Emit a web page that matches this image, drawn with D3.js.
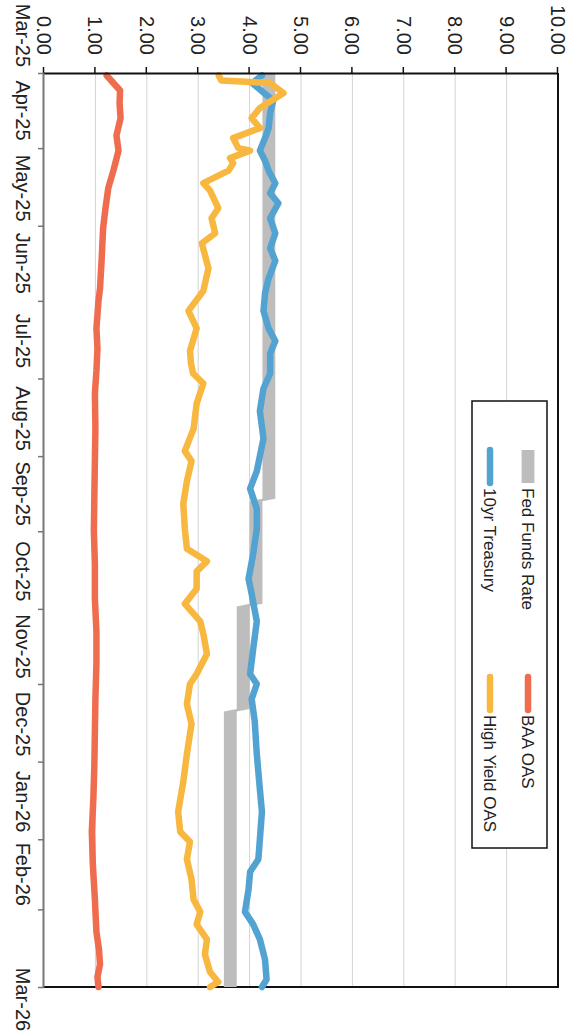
<!DOCTYPE html>
<html><head><meta charset="utf-8">
<script src="https://cdn.jsdelivr.net/npm/d3@7"></script>
<style>html,body{margin:0;padding:0;background:#fff;} svg{display:block;font-family:"Liberation Sans",Arial,sans-serif;}</style>
</head><body>
<svg id="c" width="576" height="1032"></svg>
<script>
// ---- data ----
const valueTicks = [0,1,2,3,4,5,6,7,8,9,10];
const monthTicks = ["2025-03-31","2025-04-30","2025-05-31","2025-06-30","2025-07-31","2025-08-31","2025-09-30","2025-10-31","2025-11-30","2025-12-31","2026-01-31","2026-02-28","2026-03-31"];
const monthLabels = ["Mar-25","Apr-25","May-25","Jun-25","Jul-25","Aug-25","Sep-25","Oct-25","Nov-25","Dec-25","Jan-26","Feb-26","Mar-26"];
const monthLabelDates = ["2025-03-16","2025-04-15","2025-05-16","2025-06-15","2025-07-16","2025-08-16","2025-09-15","2025-10-16","2025-11-15","2025-12-16","2026-01-16","2026-02-14","2026-04-05"];
const seriesNames = ["Fed Funds Rate","BAA OAS","10yr Treasury","High Yield OAS"];

const ffDates = ["2025-03-31","2025-09-17","2025-09-18","2025-10-29","2025-10-30","2025-12-10","2025-12-11","2026-03-31"];
const ffLower = [4.25,4.25,4.00,4.00,3.75,3.75,3.50,3.50];
const ffUpper = [4.50,4.50,4.25,4.25,4.00,4.00,3.75,3.75];

const baaDates = ["2025-04-01","2025-04-07","2025-04-12","2025-04-18","2025-04-25","2025-05-01","2025-05-09","2025-05-16","2025-05-25","2025-06-01","2025-06-14","2025-06-25","2025-06-30","2025-07-11","2025-07-19","2025-07-28","2025-08-06","2025-08-20","2025-09-02","2025-09-15","2025-09-30","2025-10-13","2025-10-27","2025-11-09","2025-11-22","2025-12-06","2025-12-19","2026-01-01","2026-01-15","2026-01-28","2026-02-10","2026-02-24","2026-03-09","2026-03-16","2026-03-22","2026-03-27","2026-03-31"];
const baaValues = [1.22,1.48,1.47,1.49,1.41,1.45,1.35,1.25,1.19,1.15,1.12,1.09,1.06,1.02,1.04,1.02,0.99,1.00,0.99,0.98,0.97,0.99,0.99,1.02,1.02,1.00,0.99,0.98,0.96,0.93,0.95,0.99,1.02,1.07,1.09,1.04,1.06];

const tsyDates = ["2025-04-01","2025-04-04","2025-04-08","2025-04-11","2025-04-16","2025-04-22","2025-04-26","2025-05-01","2025-05-05","2025-05-09","2025-05-14","2025-05-18","2025-05-22","2025-05-28","2025-06-03","2025-06-09","2025-06-14","2025-06-21","2025-06-27","2025-07-04","2025-07-11","2025-07-16","2025-07-21","2025-07-29","2025-08-04","2025-08-13","2025-08-24","2025-09-06","2025-09-13","2025-09-21","2025-09-29","2025-10-09","2025-10-19","2025-10-25","2025-11-05","2025-11-16","2025-11-26","2025-11-30","2025-12-06","2025-12-15","2025-12-28","2026-01-11","2026-01-20","2026-01-31","2026-02-08","2026-02-13","2026-02-20","2026-03-01","2026-03-06","2026-03-12","2026-03-20","2026-03-28","2026-03-31"];
const tsyValues = [4.24,4.05,4.28,4.46,4.40,4.37,4.30,4.20,4.30,4.37,4.50,4.40,4.56,4.40,4.50,4.40,4.50,4.37,4.30,4.27,4.37,4.50,4.40,4.40,4.27,4.20,4.27,4.14,4.01,4.14,4.14,4.07,3.98,4.04,4.14,4.07,4.01,4.14,4.04,4.10,4.14,4.20,4.24,4.20,4.17,4.01,3.98,3.91,4.07,4.20,4.30,4.33,4.24];

const hyDates = ["2025-04-01","2025-04-03","2025-04-04","2025-04-08","2025-04-14","2025-04-18","2025-04-22","2025-04-26","2025-04-30","2025-05-01","2025-05-04","2025-05-06","2025-05-09","2025-05-14","2025-05-17","2025-05-24","2025-05-28","2025-06-03","2025-06-07","2025-06-17","2025-06-26","2025-07-04","2025-07-11","2025-07-20","2025-07-25","2025-07-29","2025-08-02","2025-08-10","2025-08-20","2025-08-29","2025-09-02","2025-09-10","2025-09-19","2025-09-29","2025-10-07","2025-10-12","2025-10-16","2025-10-23","2025-10-29","2025-11-05","2025-11-10","2025-11-18","2025-11-26","2025-11-30","2025-12-08","2025-12-16","2025-12-28","2026-01-08","2026-01-20","2026-01-28","2026-02-01","2026-02-08","2026-02-16","2026-02-24","2026-03-01","2026-03-06","2026-03-12","2026-03-18","2026-03-25","2026-03-29","2026-03-31"];
const hyValues = [3.40,3.45,4.40,4.66,4.20,4.04,4.20,3.68,3.78,4.01,3.62,3.68,3.59,3.10,3.23,3.39,3.26,3.33,3.07,3.20,3.10,2.81,2.97,2.84,2.86,2.90,3.10,2.97,2.91,2.74,2.87,2.78,2.71,2.74,2.78,3.17,2.97,2.97,2.74,3.04,3.10,3.17,2.97,2.84,2.78,2.87,2.78,2.71,2.61,2.65,2.84,2.78,2.87,2.91,3.04,2.97,3.17,3.13,3.23,3.39,3.23];

// ---- styles ----
const colors = {ff:"#bdbdbd", baa:"#ef6d4e", tsy:"#52a3d2", hy:"#f8b73e"};

// ---- chart (drawn in landscape, then rotated 90deg clockwise) ----
const parse = d3.utcParse("%Y-%m-%d");
const svg = d3.select("#c");
const g = svg.append("g").attr("transform","translate(576,0) rotate(90)");

const x = d3.scaleUtc().domain([parse("2025-03-31"), parse("2026-03-31")]).range([73, 987]);
const y = d3.scaleLinear().domain([0, 10]).range([532, 18]);

// gridlines
g.append("g").selectAll("line").data(valueTicks.filter(v => v > 0 && v < 10)).join("line")
  .attr("x1", x.range()[0]).attr("x2", x.range()[1])
  .attr("y1", d => y(d)).attr("y2", d => y(d))
  .attr("stroke", "#d4d4d4").attr("stroke-width", 1);

// plot border (top and right)
g.append("path")
  .attr("d", `M${x.range()[0]},${y(10)}H${x.range()[1]}V${y(0)}`)
  .attr("fill","none").attr("stroke","#111").attr("stroke-width",2);

// fed funds band
const ff = ffDates.map((d,i) => ({date: parse(d), lo: ffLower[i], hi: ffUpper[i]}));
g.append("path").datum(ff)
  .attr("d", d3.area().x(d => x(d.date)).y0(d => y(d.lo)).y1(d => y(d.hi)))
  .attr("fill", colors.ff);

function drawLine(dates, values, color) {
  const data = dates.map((d,i) => ({date: parse(d), v: values[i]}));
  g.append("path").datum(data)
    .attr("d", d3.line().x(d => x(d.date)).y(d => y(d.v)))
    .attr("fill","none").attr("stroke",color).attr("stroke-width",6.5)
    .attr("stroke-linejoin","round").attr("stroke-linecap","round");
}
drawLine(baaDates, baaValues, colors.baa);
drawLine(tsyDates, tsyValues, colors.tsy);
drawLine(hyDates, hyValues, colors.hy);

// value axis (left in landscape -> top on page)
const ya = g.append("g").attr("transform", `translate(${x.range()[0]},0)`)
  .call(d3.axisLeft(y).tickValues(valueTicks).tickFormat(d3.format(".2f")).tickSize(6).tickSizeOuter(0).tickPadding(12));
ya.select(".domain").attr("stroke","#111").attr("stroke-width",2);
ya.selectAll(".tick line").attr("stroke","#111").attr("stroke-width",1.5);
ya.selectAll("text").attr("font-size",20).attr("fill","#222").attr("font-family","Liberation Sans, Arial, sans-serif");

// category (date) axis: ticks at month ends, labels centred on each month's span
const xa = g.append("g").attr("transform", `translate(0,${y(0)})`)
  .call(d3.axisBottom(x).tickValues(monthTicks.map(parse)).tickFormat("").tickSize(6).tickSizeOuter(0));
xa.select(".domain").attr("stroke","#777").attr("stroke-width",2);
xa.selectAll(".tick line").attr("stroke","#777").attr("stroke-width",1.5);
xa.append("g").selectAll("text").data(monthLabels).join("text")
  .attr("x", (d,i) => x(parse(monthLabelDates[i])))
  .attr("y", 28).attr("text-anchor","middle")
  .attr("font-size",20).attr("fill","#222").attr("font-family","Liberation Sans, Arial, sans-serif")
  .text(d => d);

// legend
const lg = g.append("g");
lg.append("rect").attr("x",401).attr("y",29).attr("width",447).attr("height",75)
  .attr("fill","#fff").attr("stroke","#111").attr("stroke-width",1.5);
const legendItems = [
  {name: seriesNames[0], color: colors.ff, w: Math.abs(y(0) - y(0.25)), col: 0, row: 0},
  {name: seriesNames[1], color: colors.baa, w: 6.5, col: 1, row: 0},
  {name: seriesNames[2], color: colors.tsy, w: 6.5, col: 0, row: 1},
  {name: seriesNames[3], color: colors.hy, w: 6.5, col: 1, row: 1}
];
const li = lg.selectAll("g.li").data(legendItems).join("g")
  .attr("transform", d => `translate(${d.col ? 677 : 450},${d.row ? 86 : 48})`);
li.append("line").attr("x1",0).attr("x2",33).attr("y1",0).attr("y2",0)
  .attr("stroke", d => d.color).attr("stroke-width", d => d.w)
  .attr("stroke-linecap", d => d.col === 0 && d.row === 0 ? "butt" : "round");
li.append("text").attr("x",38).attr("y",0).attr("dy","0.35em")
  .attr("font-size",17).attr("fill","#222").text(d => d.name);
</script>
</body></html>
